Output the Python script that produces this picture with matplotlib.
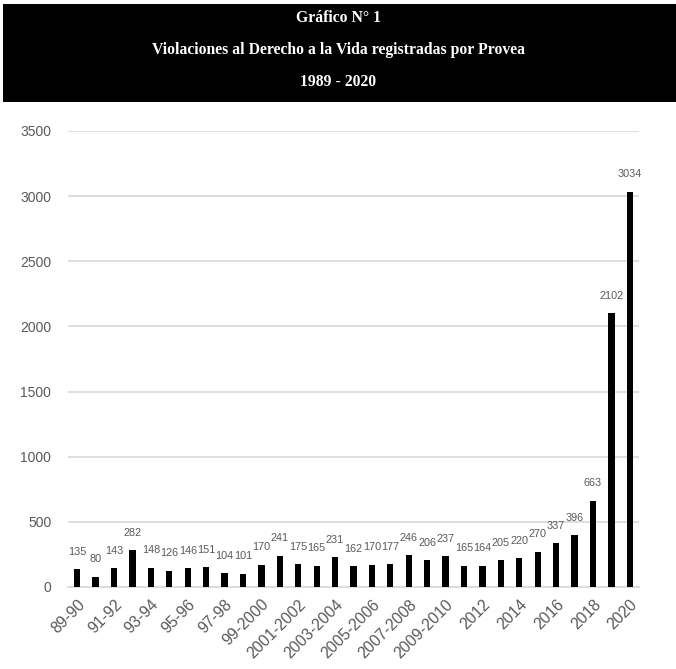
import matplotlib
matplotlib.use("Agg")
import matplotlib.pyplot as plt
import numpy as np

# periods (31 bars), only every other one gets a tick label
periodos = ["89-90", "90-91", "91-92", "92-93", "93-94", "94-95", "95-96", "96-97",
            "97-98", "98-99", "99-2000", "2000-2001", "2001-2002", "2002-2003",
            "2003-2004", "2004-2005", "2005-2006", "2006-2007", "2007-2008",
            "2008-2009", "2009-2010", "2011", "2012", "2013", "2014", "2015",
            "2016", "2017", "2018", "2019", "2020"]
victimas = [135, 80, 143, 282, 148, 126, 146, 151, 104, 101, 170, 241, 175, 165,
            231, 162, 170, 177, 246, 206, 237, 165, 164, 205, 220, 270, 337, 396,
            663, 2102, 3034]
yticks = [0, 500, 1000, 1500, 2000, 2500, 3000, 3500]
titulo = ["Gráfico N° 1",
          "Violaciones al Derecho a la Vida registradas por Provea",
          "1989 - 2020"]

W, H = 676, 669
fig = plt.figure(figsize=(W / 100, H / 100), dpi=100, facecolor='w')

# black title band
band = fig.add_axes([3 / W, 1 - 102 / H, 1 - 3 / W, 98 / H])
band.set_facecolor('black')
band.set_xticks([])
band.set_yticks([])
for s in band.spines.values():
    s.set_visible(False)
for t, yy in zip(titulo, [18, 50, 82]):
    fig.text(0.5, 1 - yy / H, t, ha='center', va='center', color='white',
             fontsize=11.3, fontweight='bold', family='Liberation Serif')

# main bar chart
x0, x1 = 68, 639
y0, y1 = 587, 131
ax = fig.add_axes([x0 / W, 1 - y0 / H, (x1 - x0) / W, (y0 - y1) / H])
xs = np.arange(len(victimas))
ax.bar(xs, victimas, width=0.34, color='black', zorder=3)
ax.set_xlim(-0.5, len(victimas) - 0.5)
ax.set_ylim(0, 3500)
ax.set_yticks(yticks)
ax.set_yticklabels([str(v) for v in yticks], color='#595959', fontsize=10,
                   family='Liberation Sans')
ax.yaxis.grid(True, color='#d9d9d9', linewidth=1.2, zorder=0)
ax.set_xticks(xs[::2])
ax.set_xticklabels(periodos[::2], rotation=45, ha='right', rotation_mode='anchor',
                   color='#595959', fontsize=11.3, family='Liberation Sans')
ax.tick_params(axis='x', length=0, pad=7)
ax.tick_params(axis='y', length=0, pad=12)
for s in ['top', 'right', 'left']:
    ax.spines[s].set_visible(False)
ax.spines['bottom'].set_color('#d9d9d9')
ax.spines['bottom'].set_linewidth(1.2)

for xi, v in zip(xs, victimas):
    ax.annotate(str(v), (xi, v), xytext=(0, 12.5), textcoords='offset points',
                ha='center', va='center', fontsize=7.8, color='#595959',
                family='Liberation Sans')

fig.savefig('out.png', dpi=100)
